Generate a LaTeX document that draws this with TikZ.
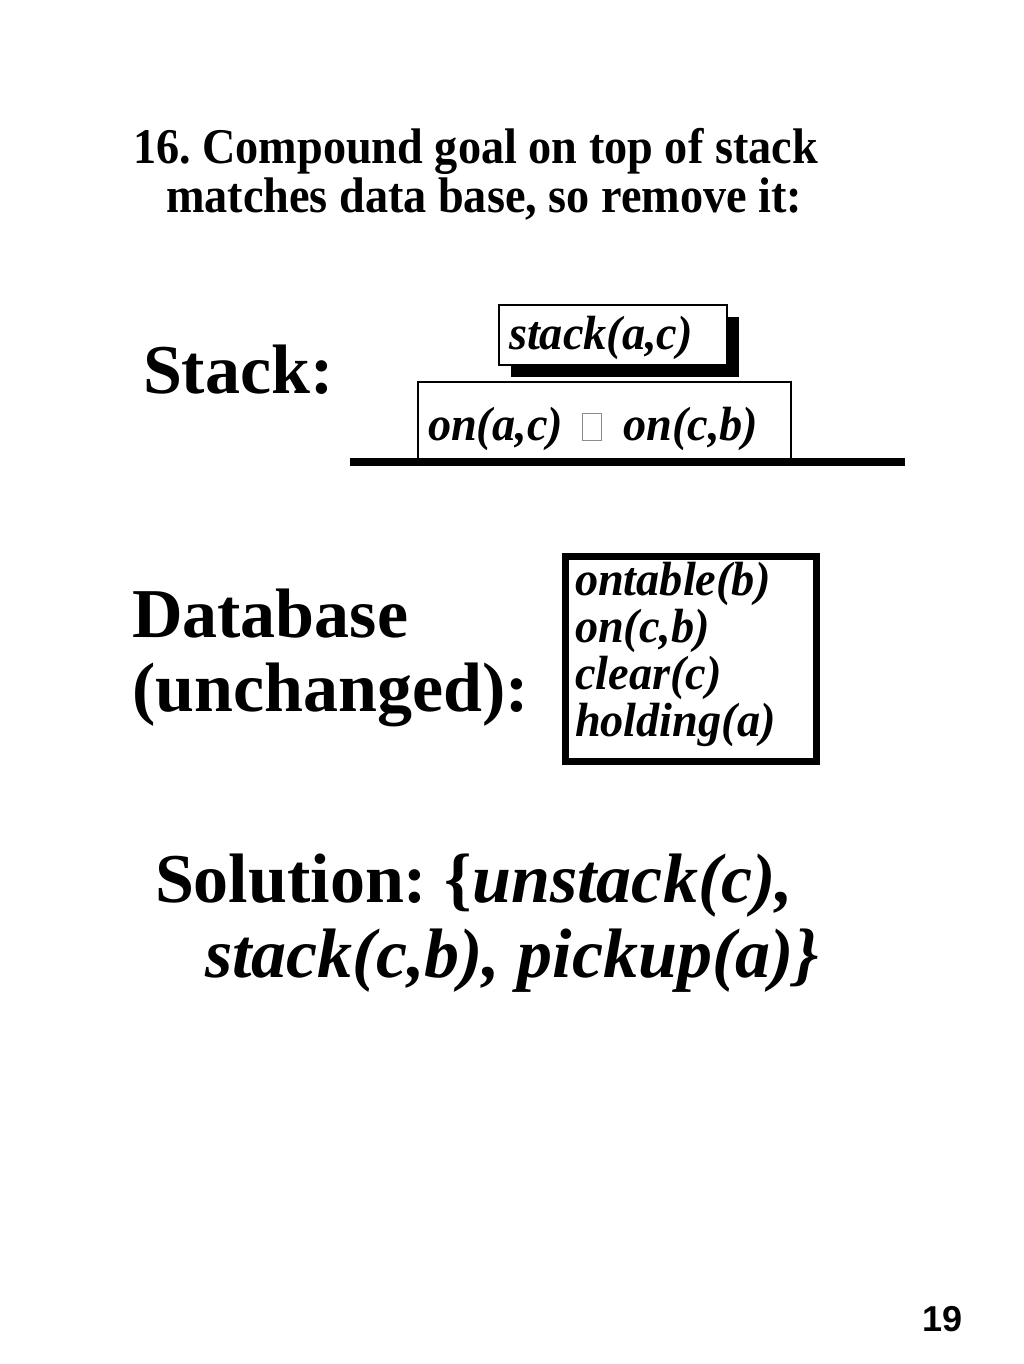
\documentclass[tikz,border=0pt]{standalone}
\usepackage{fontspec}
\setmainfont{Liberation Serif}
\newfontfamily\titlefont{Liberation Serif}[FakeStretch=0.925]
\newfontfamily\goalfont{Liberation Serif}[FakeStretch=0.965]
\newfontfamily\numfont{Liberation Sans}
\newcommand\tofubox{\textcolor{black!45}{\fboxrule=0.6pt\fboxsep=0pt\fbox{\rule{0pt}{20pt}\hspace{14pt}}}}
\begin{document}
\begin{tikzpicture}[x=0.75pt,y=-0.75pt,
  txt/.style={anchor=base west,inner sep=0pt,outer sep=0pt},
  titletxt/.style={txt,font=\titlefont\fontsize{37.5}{37.5}\selectfont\bfseries\frenchspacing},
  bigtxt/.style={txt,font=\fontsize{52.5}{52.5}\selectfont\bfseries\frenchspacing},
  goaltxt/.style={txt,font=\goalfont\fontsize{36}{36}\selectfont\bfseries\itshape},
  boxline/.style={line width=1.5pt},
]
\useasboundingbox[fill=white] (0,0) rectangle (1024,1364);
% title
\node[titletxt] (t1) at (133,163) {16. Compound goal on top of stack};
\node[titletxt] (t2) at (166,212) {matches data base, so remove it:};
% stack
\node[bigtxt] (stacklbl) at (143,393) {Stack:};
\fill (511,317) rectangle (739,377);
\draw[boxline,fill=white] (499,305) rectangle (727,365);
\node[goaltxt] (g1) at (509,349) {stack(a,c)};
\draw[boxline,fill=white] (418,382) rectangle (791,461);
\node[goaltxt] (g2) at (428,440) {on(a,c)\hspace{14pt}\tofubox\hspace{16pt}on(c,b)};
\fill (350,458) rectangle (905,466);
% database
\node[bigtxt] (db1) at (132,637) {Database};
\node[bigtxt] (db2) at (132,711) {(unchanged):};
\draw[line width=5.25pt] (565.5,556.5) rectangle (816.5,761.5);
\node[goaltxt] (d1) at (575,595) {ontable(b)};
\node[goaltxt] (d2) at (575,642) {on(c,b)};
\node[goaltxt] (d3) at (575,689) {clear(c)};
\node[goaltxt] (d4) at (575,736) {holding(a)};
% solution
\node[bigtxt] (s1) at (155,902) {Solution: \{\textit{unstack(c),}};
\node[bigtxt] (s2) at (205,977) {\textit{stack(c,b), pickup(a)\}}};
% page number
\node[txt,font=\numfont\bfseries\fontsize{27}{27}\selectfont] (pg) at (922,1331) {19};
\end{tikzpicture}
\end{document}
